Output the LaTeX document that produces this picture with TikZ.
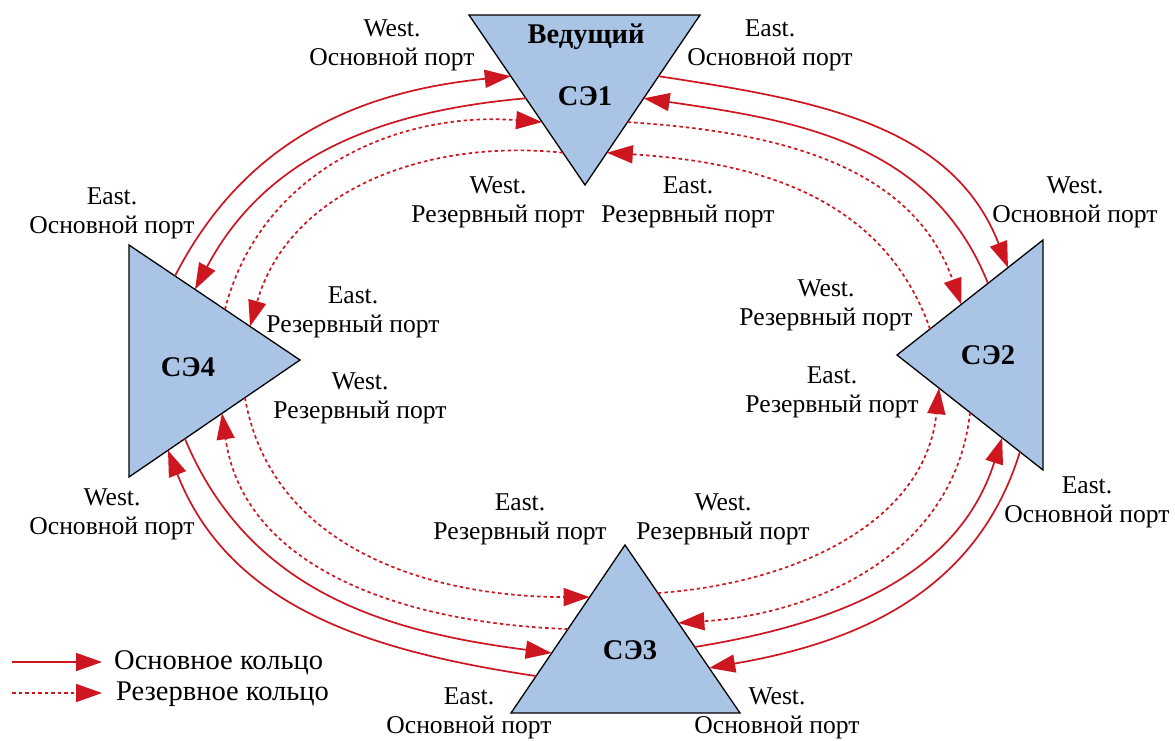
\documentclass[tikz,border=0pt]{standalone}
\usepackage{fontspec}
\setmainfont{Liberation Serif}
\usetikzlibrary{arrows.meta,calc}
\definecolor{ringred}{RGB}{205,22,32}
\definecolor{sefill}{RGB}{170,196,230}
\begin{document}
\begin{tikzpicture}[x=1pt,y=-1pt,
  portlbl/.style={align=center,font=\fontsize{25.6}{29}\selectfont,inner sep=0pt},
  selbl/.style={font=\fontsize{28.5}{32}\selectfont\bfseries,inner sep=0pt},
  legtxt/.style={anchor=west,font=\fontsize{28.5}{31}\selectfont,inner sep=0pt},
  setri/.style={fill=sefill,draw=black,line width=1.3pt,line join=miter},
  mainring/.style={draw=ringred,line width=1.7pt,-{Triangle[length=26pt,width=18pt]}},
  resring/.style={mainring,dash pattern=on 3.5pt off 3pt}]
\useasboundingbox (0,0) rectangle (1175,740);
% triangle vertices
\coordinate (t1a) at (469,15);  \coordinate (t1b) at (700,15);  \coordinate (t1c) at (585,185);
\coordinate (t2a) at (1043,240);\coordinate (t2b) at (1043,470);\coordinate (t2c) at (897,355);
\coordinate (t3a) at (511,713); \coordinate (t3b) at (740,713); \coordinate (t3c) at (625,545);
\coordinate (t4a) at (129,245); \coordinate (t4b) at (129,477); \coordinate (t4c) at (300,360);
\draw[setri] (t1a) -- (t1b) -- (t1c) -- cycle;
\draw[setri] (t2a) -- (t2b) -- (t2c) -- cycle;
\draw[setri] (t3a) -- (t3b) -- (t3c) -- cycle;
\draw[setri] (t4a) -- (t4b) -- (t4c) -- cycle;
% ports of SE1
\coordinate (p1L1) at ($(t1a)!0.36!(t1c)$); \coordinate (p1L2) at ($(t1a)!0.49!(t1c)$);
\coordinate (p1L3) at ($(t1a)!0.63!(t1c)$); \coordinate (p1L4) at ($(t1a)!0.81!(t1c)$);
\coordinate (p1R1) at ($(t1b)!0.36!(t1c)$); \coordinate (p1R2) at ($(t1b)!0.49!(t1c)$);
\coordinate (p1R3) at ($(t1b)!0.63!(t1c)$); \coordinate (p1R4) at ($(t1b)!0.81!(t1c)$);
% ports of SE2
\coordinate (p2T1) at ($(t2a)!0.24!(t2c)$);  \coordinate (p2T2) at ($(t2a)!0.377!(t2c)$);
\coordinate (p2T3) at ($(t2a)!0.56!(t2c)$);  \coordinate (p2T4) at ($(t2a)!0.774!(t2c)$);
\coordinate (p2B1) at ($(t2b)!0.158!(t2c)$); \coordinate (p2B2) at ($(t2b)!0.28!(t2c)$);
\coordinate (p2B3) at ($(t2b)!0.5!(t2c)$);   \coordinate (p2B4) at ($(t2b)!0.712!(t2c)$);
% ports of SE3
\coordinate (p3R1) at ($(t3b)!0.268!(t3c)$); \coordinate (p3R2) at ($(t3b)!0.393!(t3c)$);
\coordinate (p3R3) at ($(t3b)!0.536!(t3c)$); \coordinate (p3R4) at ($(t3b)!0.714!(t3c)$);
\coordinate (p3L1) at ($(t3a)!0.22!(t3c)$);  \coordinate (p3L2) at ($(t3a)!0.357!(t3c)$);
\coordinate (p3L3) at ($(t3a)!0.5!(t3c)$);   \coordinate (p3L4) at ($(t3a)!0.69!(t3c)$);
% ports of SE4
\coordinate (p4B1) at ($(t4b)!0.228!(t4c)$); \coordinate (p4B2) at ($(t4b)!0.327!(t4c)$);
\coordinate (p4B3) at ($(t4b)!0.544!(t4c)$); \coordinate (p4B4) at ($(t4b)!0.678!(t4c)$);
\coordinate (p4T1) at ($(t4a)!0.269!(t4c)$); \coordinate (p4T2) at ($(t4a)!0.386!(t4c)$);
\coordinate (p4T3) at ($(t4a)!0.561!(t4c)$); \coordinate (p4T4) at ($(t4a)!0.708!(t4c)$);
% top-right
\draw[mainring] (p1R1) to[relative,out=20,in=140] (p2T1);
\draw[mainring] (p2T2) to[relative,out=-40,in=-160] (p1R2);
\draw[resring]  (p1R3) to[relative,out=25,in=138] (p2T3);
\draw[resring]  (p2T4) to[relative,out=-42,in=-155] (p1R4);
% bottom-right
\draw[mainring] (p2B1) to[relative,out=38,in=155] (p3R1);
\draw[mainring] (p3R2) to[relative,out=-25,in=-142] (p2B2);
\draw[resring]  (p2B3) to[relative,out=48,in=148] (p3R3);
\draw[resring]  (p3R4) to[relative,out=-32,in=-132] (p2B4);
% bottom-left
\draw[mainring] (p3L1) to[relative,out=23,in=143] (p4B1);
\draw[mainring] (p4B2) to[relative,out=-37,in=-157] (p3L2);
\draw[resring]  (p3L3) to[relative,out=30,in=130] (p4B3);
\draw[resring]  (p4B4) to[relative,out=-50,in=-150] (p3L4);
% top-left
\draw[mainring] (p4T1) to[relative,out=32,in=155] (p1L1);
\draw[mainring] (p1L2) to[relative,out=-25,in=-148] (p4T2);
\draw[resring]  (p4T3) to[relative,out=45,in=145] (p1L3);
\draw[resring]  (p1L4) to[relative,out=-35,in=-135] (p4T4);
% element labels
\node[selbl] (lead) at (586,37) {Ведущий};
\node[selbl] (se1) at (585,96) {СЭ1};
\node[selbl] (se2) at (988,355) {СЭ2};
\node[selbl] (se3) at (630,650) {СЭ3};
\node[selbl] (se4) at (188,367) {СЭ4};
% port labels
\node[portlbl] (l1)  at (392,45)   {West.\\Основной порт};
\node[portlbl] (l2)  at (770,45)   {East.\\Основной порт};
\node[portlbl] (l3)  at (498,202)  {West.\\Резервный порт};
\node[portlbl] (l4)  at (688,202)  {East.\\Резервный порт};
\node[portlbl] (l5)  at (112,213)  {East.\\Основной порт};
\node[portlbl] (l6)  at (1075,202) {West.\\Основной порт};
\node[portlbl] (l7)  at (353,312)  {East.\\Резервный порт};
\node[portlbl] (l8)  at (360,398)  {West.\\Резервный порт};
\node[portlbl] (l9)  at (826,305)  {West.\\Резервный порт};
\node[portlbl] (l10) at (832,392)  {East.\\Резервный порт};
\node[portlbl] (l11) at (112,514)  {West.\\Основной порт};
\node[portlbl] (l12) at (1087,502) {East.\\Основной порт};
\node[portlbl] (l13) at (520,519)  {East.\\Резервный порт};
\node[portlbl] (l14) at (723,519)  {West.\\Резервный порт};
\node[portlbl] (l15) at (469,713)  {East.\\Основной порт};
\node[portlbl] (l16) at (777,713)  {West.\\Основной порт};
% legend
\coordinate (lg1a) at (12,662); \coordinate (lg1b) at (102,662);
\coordinate (lg2a) at (12,693); \coordinate (lg2b) at (102,693);
\draw[mainring] (lg1a) -- (lg1b);
\draw[resring] (lg2a) -- (lg2b);
\node[legtxt] (lg1t) at (114,663) {Основное кольцо};
\node[legtxt] (lg2t) at (116,694) {Резервное кольцо};
\end{tikzpicture}
\end{document}
